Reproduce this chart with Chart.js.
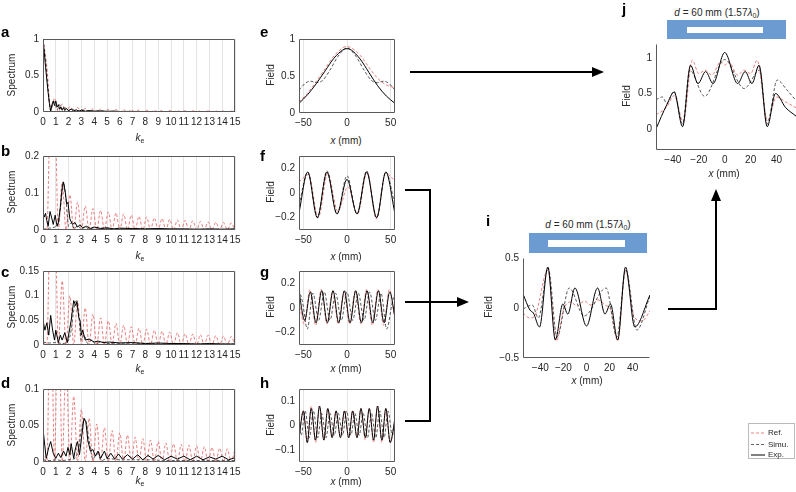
<!DOCTYPE html>
<html><head><meta charset="utf-8">
<script src="https://cdn.jsdelivr.net/npm/chart.js@4.4.1/dist/chart.umd.min.js"></script>
<style>
html,body{margin:0;padding:0;overflow:hidden}
body{width:796px;height:492px;position:relative;background:#fff;font-family:"Liberation Sans",Arial,sans-serif;color:#262626}
canvas{position:absolute}
.t{position:absolute;white-space:nowrap;font-size:10px;line-height:1;transform:translate(-50%,-50%)}
.r{transform:translate(-50%,-50%) rotate(-90deg)}
.L{position:absolute;font-weight:bold;font-size:15px;line-height:15px;color:#000}
sub{font-size:7px;vertical-align:-2px}
.bar{position:absolute;background:#6c9bd2}
.hole{position:absolute;background:#fff}
.lg{position:absolute;font-size:8px;line-height:1;transform:translateY(-50%)}
</style></head><body>
<script>
// ---------- tick labels ----------
const kTicks = [0,1,2,3,4,5,6,7,8,9,10,11,12,13,14,15];
const yTicksA = [0,0.5,1];
const yTicksB = [0,0.1,0.2];
const yTicksC = [0,0.05,0.1,0.15];
const yTicksD = [0,0.05,0.1];
const xTicksField = [-50,0,50];
const yTicksE = [0,0.5,1];
const yTicksF = [-0.2,0,0.2];
const yTicksG = [-0.2,0,0.2];
const yTicksH = [-0.1,0,0.1];
const xTicksIJ = [-40,-20,0,20,40];
const yTicksI = [-0.5,0,0.5];
const yTicksJ = [0,0.5,1];

// ---------- spectra (k_e) ----------
const lobeK = [0,0.3,0.6,0.9,1.2,1.5,1.8,2.1,2.4,2.7,3,3.3,3.6,3.9,4.2,4.5,4.8,5.1,5.4,5.7,6,6.3,6.6,6.9,7.2,7.5,7.8,8.1,8.4,8.7,9,9.3,9.6,9.9,10.2,10.5,10.8,11.1,11.4,11.7,12,12.3,12.6,12.9,13.2,13.5,13.8,14.1,14.4,14.7,15];
const refA = [1,0.62,0.03,0.19,0,0.11,0,0.075,0,0.06,0,0.05,0,0.045,0,0.04,0,0.036,0,0.033,0,0.03,0,0.028,0,0.026,0,0.024,0,0.022,0,0.021,0,0.02,0,0.019,0,0.018,0,0.017,0,0.016,0,0.015,0,0.014,0,0.013,0,0.013,0];
const refB = [0,0,0.35,0.35,0,0.13,0,0.095,0,0.075,0,0.065,0,0.058,0,0.053,0,0.049,0,0.046,0,0.043,0,0.04,0,0.037,0,0.035,0,0.033,0,0.031,0,0.029,0,0.027,0,0.026,0,0.025,0,0.023,0,0.022,0,0.021,0,0.02,0,0.019,0];
const refC = [0.005,0,0.3,0.3,0,0.13,0,0.1,0,0.09,0,0.075,0,0.063,0,0.055,0,0.049,0,0.044,0,0.04,0,0.037,0,0.034,0,0.032,0,0.03,0,0.028,0,0.026,0,0.025,0,0.023,0,0.022,0,0.021,0,0.02,0,0.019,0,0.018,0,0.017,0];
const refD = [0.01,0,0.25,0,0.25,0,0.14,0,0.09,0,0.072,0,0.06,0,0.052,0,0.047,0,0.043,0,0.04,0,0.037,0,0.034,0,0.032,0,0.03,0,0.028,0,0.026,0,0.025,0,0.024,0,0.023,0,0.022,0,0.021,0,0.02,0,0.019,0,0.018,0,0.018];

const expAK = [0,0.1,0.2,0.3,0.4,0.5,0.6,0.7,0.8,0.9,1.0,1.1,1.2,1.3,1.4,1.5,1.6,1.7,1.8,2.0,2.2,2.4,2.6,2.8,3.0,3.3,3.6,4.0,4.5,5,5.5,6,7,8,9,10,11,12,13,14,15];
const expAV = [1.0,0.82,0.62,0.44,0.27,0.12,0.01,0.1,0.15,0.09,0.15,0.07,0.1,0.04,0.07,0.03,0.06,0.02,0.05,0.02,0.04,0.015,0.03,0.01,0.025,0.01,0.02,0.01,0.015,0.008,0.012,0.006,0.008,0.005,0.007,0.004,0.006,0.004,0.005,0.003,0.004];
const simAK = [0,0.2,0.4,0.6,0.75,0.9,1.1,1.3,1.5,1.7,2.0,2.3,2.6,3.0,3.5,4,5,6,8,10,12,15];
const simAV = [1.0,0.7,0.3,0.02,0.1,0.14,0.03,0.1,0.02,0.06,0.02,0.04,0.01,0.03,0.01,0.015,0.01,0.008,0.006,0.005,0.004,0.003];

const expBK = [0,0.1,0.2,0.3,0.4,0.55,0.7,0.8,0.95,1.1,1.2,1.35,1.5,1.6,1.75,1.85,1.95,2.1,2.3,2.5,2.7,2.9,3.1,3.4,3.7,4,4.5,5,5.5,6,7,8,9,10,11,12,13,14,15];
const expBV = [0.05,0.035,0.045,0.025,0.01,0.05,0.03,0.015,0.04,0.01,0.02,0.06,0.115,0.13,0.1,0.07,0.075,0.03,0.015,0.02,0.008,0.014,0.006,0.01,0.004,0.008,0.004,0.006,0.003,0.005,0.004,0.003,0.004,0.003,0.003,0.002,0.003,0.002,0.003];
const simBK = [0,0.5,1.0,1.2,1.4,1.6,1.8,2.0,2.2,2.45,2.7,3.0,3.3,3.6,4,5,6,8,10,12,15];
const simBV = [0.002,0.005,0.01,0.02,0.07,0.128,0.08,0.01,0.02,0.003,0.012,0.002,0.008,0.002,0.006,0.004,0.003,0.003,0.002,0.002,0.002];

const expCK = [0,0.15,0.3,0.45,0.6,0.75,0.9,1.0,1.2,1.35,1.5,1.7,1.9,2.0,2.2,2.4,2.55,2.65,2.8,2.9,3.0,3.1,3.3,3.6,4.0,4.3,4.7,5.2,6,7,8,9,10,11,12,13,14,15];
const expCV = [0.05,0.03,0.045,0.02,0.06,0.03,0.01,0.03,0.005,0.02,0.01,0.025,0.005,0.02,0.05,0.09,0.08,0.088,0.055,0.05,0.02,0.03,0.01,0.012,0.006,0.008,0.005,0.006,0.004,0.005,0.003,0.004,0.003,0.003,0.002,0.003,0.002,0.002];
const simCK = [0,0.5,1.0,1.5,2.0,2.2,2.4,2.6,2.8,3.0,3.2,3.5,3.8,4.1,4.5,5,6,8,10,12,15];
const simCV = [0.006,0.004,0.005,0.003,0.01,0.03,0.07,0.09,0.06,0.01,0.02,0.003,0.01,0.002,0.006,0.003,0.004,0.003,0.002,0.002,0.002];

const expDK = [0,0.25,0.45,0.6,0.8,1.0,1.2,1.4,1.6,1.8,1.95,2.1,2.2,2.4,2.55,2.7,2.85,3.0,3.2,3.35,3.5,3.7,3.9,4.1,4.3,4.5,4.8,5.0,5.3,5.6,5.9,6.2,6.6,7.0,7.4,7.8,8.2,8.6,9.0,9.5,10,10.5,11,11.5,12,12.5,13,13.5,14,14.5,15];
const expDV = [0.045,0.005,0.02,0.028,0.012,0.005,0.012,0.006,0.015,0.008,0.02,0.01,0.025,0.005,0.02,0.028,0.01,0.032,0.06,0.055,0.03,0.015,0.017,0.008,0.015,0.005,0.015,0.005,0.012,0.004,0.011,0.004,0.01,0.004,0.01,0.003,0.009,0.004,0.009,0.003,0.008,0.004,0.008,0.003,0.008,0.003,0.007,0.004,0.008,0.003,0.006];
const simDK = [0,0.5,1.0,1.5,2.0,2.5,2.8,3.0,3.3,3.6,3.9,4.2,4.6,5,6,8,10,12,15];
const simDV = [0.003,0.002,0.003,0.002,0.003,0.005,0.02,0.045,0.058,0.03,0.004,0.012,0.002,0.005,0.003,0.003,0.002,0.002,0.002];

// ---------- fields (x in mm) ----------
const expEX = [-55,-45,-35,-25,-15,-5,0,5,15,25,35,45,55];
const expEV = [0.13,0.25,0.4,0.57,0.74,0.85,0.87,0.85,0.73,0.55,0.37,0.23,0.13];
const refEX = [-55,-45,-35,-25,-15,-5,-1,5,15,25,35,45,55];
const refEV = [0.15,0.27,0.43,0.6,0.77,0.88,0.9,0.88,0.78,0.62,0.47,0.38,0.34];
const simEX = [-55,-48,-42,-35,-28,-20,-10,0,10,20,28,35,42,48,55];
const simEV = [0.31,0.4,0.43,0.41,0.44,0.57,0.77,0.88,0.77,0.57,0.44,0.41,0.43,0.4,0.31];

const expFX = [-55,-45,-34,-23,-11.5,0,11.5,22.5,34,44.5,55];
const expFV = [-0.16,0.17,-0.2,0.17,-0.17,0.11,-0.17,0.17,-0.2,0.17,-0.17];
const refFX = [-55,-44,-33,-22,-10.5,1,12,23,33.5,44,55];
const refFV = [0.09,0.15,-0.2,0.16,-0.15,0.05,-0.17,0.17,-0.21,0.16,0.1];
const simFX = [-55,-45,-34,-23,-11.5,0,11.5,22.5,34,44.5,55];
const simFV = [-0.1,0.17,-0.2,0.18,-0.17,0.14,-0.17,0.18,-0.2,0.17,-0.1];

const expGX = [-55,-48.5,-42,-35.5,-29,-22.5,-16,-9.5,-3,3.5,10,16.5,23,29.5,36,42.5,49,55];
const expGV = [0.13,-0.1,0.13,-0.12,0.14,-0.12,0.14,-0.12,0.14,-0.12,0.14,-0.12,0.14,-0.12,0.14,-0.12,0.13,-0.08];
const refGX = [-55,-49,-42.5,-36,-29.5,-23,-16.5,-10,-3.5,3,9.5,16,22.5,29,35.5,42,48.5,55];
const refGV = [0.05,-0.13,0.15,-0.14,0.15,-0.13,0.14,-0.13,0.13,-0.13,0.14,-0.13,0.15,-0.14,0.15,-0.14,0.15,-0.1];
const simGX = [-55,-51,-45.5,-39,-32.5,-26,-19.5,-13,-6.5,0,6.5,13,19.5,26,32.5,39,45.5,52,55];
const simGV = [0.15,0.05,-0.17,0.12,-0.1,0.13,-0.1,0.12,-0.1,0.13,-0.1,0.12,-0.1,0.13,-0.1,0.12,-0.17,0.05,0.12];

const expHX = [-55,-50,-45.5,-41,-36,-31.5,-26.5,-22,-17,-12.5,-7.5,-3,2,6.5,11.5,16,21,25.5,30.5,35,40,44.5,49.5,55];
const expHV = [-0.05,0.06,-0.07,0.07,-0.06,0.08,-0.06,0.07,-0.05,0.06,-0.05,0.06,-0.05,0.06,-0.05,0.07,-0.05,0.07,-0.06,0.08,-0.06,0.07,-0.07,0.03];
const refHX = [-55,-50,-45.5,-41,-36,-31.5,-26.5,-22,-17,-12.5,-7.5,-3,2,6.5,11.5,16,21,25.5,30.5,35,40,44.5,49.5,55];
const refHV = [-0.06,0.06,-0.07,0.08,-0.07,0.08,-0.06,0.07,-0.05,0.06,-0.05,0.06,-0.05,0.06,-0.05,0.07,-0.06,0.07,-0.07,0.08,-0.07,0.07,-0.07,0.02];
const simHX = [-55,-52.5,-48,-43,-38.5,-33.5,-29,-24,-19.5,-14.5,-10,-5,-0.5,4.5,9,14,18.5,23.5,28,33,37.5,42.5,47,52,55];
const simHV = [0.0,-0.04,0.06,-0.05,0.06,-0.05,0.05,-0.05,0.05,-0.04,0.05,-0.04,0.06,-0.04,0.05,-0.04,0.05,-0.05,0.05,-0.05,0.06,-0.05,0.06,-0.04,0.02];

const expIX = [-55,-49,-46,-40.7,-33.5,-27,-20.5,-16.2,-10,0,9.6,16,20.8,27,33.8,41.8,55];
const expIV = [0.14,-0.02,-0.05,-0.19,0.41,-0.32,0.04,-0.06,0.2,-0.18,0.2,-0.06,0.04,-0.32,0.41,-0.19,0.13];
const refIX = [-55,-49,-44,-33.5,-26,-20,-14,-8,-2,4,10,16,21,27,33.8,41,48,55];
const refIV = [-0.05,-0.1,-0.06,0.38,-0.33,-0.02,0.06,0.02,0.07,0.03,0.08,0.03,-0.02,-0.33,0.38,-0.08,-0.13,-0.03];
const simIX = [-55,-47,-41.7,-33.2,-25.5,-15,-2,17,26.3,34,43.6,55];
const simIV = [-0.01,0.03,-0.1,0.4,-0.29,0.2,-0.08,0.2,-0.29,0.38,-0.22,0.12];

const expJX = [-53,-44.7,-39,-32.5,-26.4,-20.6,-14.7,-9,0,10,15.8,21,26.5,32.8,39.2,47,55];
const expJV = [0.0,0.34,0.52,0.03,0.9,0.64,0.81,0.64,1.08,0.64,0.81,0.64,0.9,0.03,0.5,0.3,0.18];
const refJX = [-53,-45,-39,-32,-25,-20,-15,-10,-3,0,3,10,15,20,25,33,40,47,55];
const refJV = [0.2,0.3,0.47,0.1,0.97,0.78,0.83,0.76,0.95,0.9,0.95,0.76,0.83,0.78,0.97,0.12,0.45,0.38,0.3];
const simJX = [-53,-48,-44.7,-39,-32.5,-27,-15.5,0,15,27,32.8,40.5,48,55];
const simJV = [0.41,0.45,0.36,0.53,0.07,0.83,0.46,0.98,0.57,0.83,0.07,0.69,0.55,0.4];

// ---------- rendering ----------
const FONT = "'Liberation Sans', Arial, sans-serif";
const RED = 'rgba(228,96,96,0.9)';
const SIM = '#444';
const EXP = '#000';
function pts(xs, ys){ return xs.map((x,i)=>({x:x, y:ys[i]})); }
function fmt(v){ return String(+(+v).toFixed(4)).replace('-', '\u2212'); }
function sets(ex, ey, sx, sy, rx, ry, jagged){
  return [
    {data:pts(ex,ey), borderColor:EXP, borderWidth:1, tension:0, cubicInterpolationMode: jagged ? 'default' : 'monotone'},
    {data:pts(sx,sy), borderColor:SIM, borderWidth:0.9, borderDash:[3,2], cubicInterpolationMode:'monotone'},
    {data:pts(rx,ry), borderColor:RED, borderWidth:0.9, borderDash:[3,2], cubicInterpolationMode:'monotone'}
  ];
}
const frame = {
  id:'frame',
  afterDraw(chart, args, opts){
    const c = chart.ctx, a = chart.chartArea;
    const l = Math.round(a.left)+0.5, t = Math.round(a.top)+0.5, r = Math.round(a.right)-0.5, b = Math.round(a.bottom)-0.5;
    c.save(); c.strokeStyle = '#5a5a5a'; c.lineWidth = 1; c.beginPath();
    if (opts.box){ c.moveTo(l,t); c.lineTo(r,t); c.lineTo(r,b); c.lineTo(l,b); c.closePath(); }
    else { c.moveTo(l,t); c.lineTo(l,b); c.lineTo(r,b); }
    c.stroke(); c.restore();
  }
};
function panel(p){
  const padL = 40, padT = 8, padR = 12, padB = 22;
  const cv = document.createElement('canvas');
  const w = (p.R-p.L)+padL+padR, h = (p.B-p.T)+padT+padB;
  cv.width = w; cv.height = h;
  cv.style.left = (p.L-padL)+'px'; cv.style.top = (p.T-padT)+'px';
  cv.style.width = w+'px'; cv.style.height = h+'px';
  document.body.appendChild(cv);
  const tickFont = {family:FONT, size:10};
  new Chart(cv, {
    type:'line',
    data:{datasets:p.datasets},
    options:{
      responsive:false, animation:false, devicePixelRatio:1,
      layout:{padding:{top:padT, right:padR, left:0, bottom:0}},
      plugins:{legend:{display:false}, tooltip:{enabled:false}, frame:{box:p.box}},
      elements:{point:{radius:0}},
      scales:{
        x:{type:'linear', min:p.xmin, max:p.xmax,
           afterBuildTicks:s=>{ s.ticks = p.xt.map(v=>({value:v})); },
           afterFit:s=>{ s.height = padB; },
           grid:{display:p.grid, color:'#e4e4e4', lineWidth:1, drawTicks:false},
           border:{display:false},
           ticks:{autoSkip:false, maxRotation:0, padding:4, color:'#262626', font:tickFont, callback:v=>fmt(v)}},
        y:{type:'linear', min:p.ymin, max:p.ymax,
           afterBuildTicks:s=>{ s.ticks = p.yt.map(v=>({value:v})); },
           afterFit:s=>{ s.width = padL; },
           grid:{display:false, drawTicks:false},
           border:{display:false},
           ticks:{padding:4, color:'#262626', font:tickFont, callback:v=>fmt(v)}}
      }
    },
    plugins:[frame]
  });
}

// spectra
panel({L:43,R:235,T:37,B:112,xmin:0,xmax:15,ymin:0,ymax:1,xt:kTicks,yt:yTicksA,grid:true,box:true,datasets:sets(expAK,expAV,simAK,simAV,lobeK,refA,true)});
panel({L:43,R:235,T:154,B:230,xmin:0,xmax:15,ymin:0,ymax:0.2,xt:kTicks,yt:yTicksB,grid:true,box:true,datasets:sets(expBK,expBV,simBK,simBV,lobeK,refB,true)});
panel({L:43,R:235,T:269,B:345,xmin:0,xmax:15,ymin:0,ymax:0.15,xt:kTicks,yt:yTicksC,grid:true,box:true,datasets:sets(expCK,expCV,simCK,simCV,lobeK,refC,true)});
panel({L:43,R:235,T:387,B:462,xmin:0,xmax:15,ymin:0,ymax:0.1,xt:kTicks,yt:yTicksD,grid:true,box:true,datasets:sets(expDK,expDV,simDK,simDV,lobeK,refD,true)});
// fields
panel({L:299,R:395,T:37,B:113,xmin:-55,xmax:55,ymin:0,ymax:1,xt:xTicksField,yt:yTicksE,grid:true,box:true,datasets:sets(expEX,expEV,simEX,simEV,refEX,refEV,false)});
panel({L:299,R:395,T:154,B:230,xmin:-55,xmax:55,ymin:-0.3,ymax:0.3,xt:xTicksField,yt:yTicksF,grid:true,box:true,datasets:sets(expFX,expFV,simFX,simFV,refFX,refFV,false)});
panel({L:299,R:395,T:269,B:345,xmin:-55,xmax:55,ymin:-0.3,ymax:0.3,xt:xTicksField,yt:yTicksG,grid:true,box:true,datasets:sets(expGX,expGV,simGX,simGV,refGX,refGV,false)});
panel({L:299,R:395,T:387,B:462,xmin:-55,xmax:55,ymin:-0.15,ymax:0.15,xt:xTicksField,yt:yTicksH,grid:true,box:true,datasets:sets(expHX,expHV,simHX,simHV,refHX,refHV,false)});
panel({L:523,R:650,T:256,B:358,xmin:-55,xmax:55,ymin:-0.5,ymax:0.5,xt:xTicksIJ,yt:yTicksI,grid:false,box:false,datasets:sets(expIX,expIV,simIX,simIV,refIX,refIV,false)});
panel({L:656,R:796,T:42,B:150,xmin:-53,xmax:55,ymin:-0.3,ymax:1.2,xt:xTicksIJ,yt:yTicksJ,grid:false,box:false,datasets:sets(expJX,expJV,simJX,simJV,refJX,refJV,false)});

// ---------- text ----------
function txt(html, x, y, cls){
  const d = document.createElement('div');
  d.className = cls || 't'; d.innerHTML = html;
  d.style.left = x+'px'; d.style.top = y+'px';
  document.body.appendChild(d); return d;
}
const ke = '<i>k</i><sub>e</sub>';
const xmm = '<i>x</i> (mm)';
txt(ke,140,138); txt(ke,140,256); txt(ke,140,369); txt(ke,140,481);
[74.5,192,307,424.5].forEach(y=>txt('Spectrum',12,y,'t r'));
txt(xmm,346,141); txt(xmm,346,257); txt(xmm,346,369); txt(xmm,346,482);
[75,192,307,424.5].forEach(y=>txt('Field',270.5,y,'t r'));
txt('Field',489,307,'t r'); txt(xmm,587,381);
txt('Field',627,96,'t r'); txt(xmm,724,173.5);
const ttl = '<i>d</i> = 60 mm (1.57<i>\u03bb</i><sub>0</sub>)';
txt(ttl,588,225); txt(ttl,717,12.5);
// panel letters
[['a',1,23.5],['b',1,143],['c',1,263.5],['d',1,374.5],['e',260,23.5],['f',260,148],['g',260,264],['h',260,374.5],['i',486,213],['j',622,1]].forEach(l=>{
  txt(l[0], l[1], l[2], 'L');
});
</script>
<div class="bar" style="left:529px;top:233px;width:118px;height:20px"></div>
<div class="hole" style="left:548px;top:240px;width:77px;height:7px"></div>
<div class="bar" style="left:667px;top:20px;width:119px;height:19px"></div>
<div class="hole" style="left:687px;top:27px;width:76px;height:6px"></div>
<svg width="796" height="492" style="position:absolute;left:0;top:0;pointer-events:none">
  <g stroke="#000" stroke-width="2" fill="none">
    <line x1="410" y1="72" x2="594" y2="72"/>
    <polyline points="405,190 430,190 430,421 405,421"/>
    <line x1="405" y1="302" x2="459" y2="302"/>
    <polyline points="668,309 716,309 716,199"/>
  </g>
  <g fill="#000">
    <polygon points="604,72 592,67 592,77"/>
    <polygon points="469,302 457,297 457,307"/>
    <polygon points="716,189 711,201 721,201"/>
  </g>
  <rect x="748.5" y="423.5" width="46" height="35" fill="#fff" stroke="#bbb" stroke-width="1"/>
  <line x1="751" y1="433" x2="765" y2="433" stroke="rgba(228,96,96,0.9)" stroke-width="0.9" stroke-dasharray="3,2"/>
  <line x1="751" y1="444.5" x2="765" y2="444.5" stroke="#555" stroke-width="0.9" stroke-dasharray="3,2"/>
  <line x1="751" y1="455" x2="765" y2="455" stroke="#000" stroke-width="1"/>
</svg>
<div class="lg" style="left:768px;top:433px">Ref.</div>
<div class="lg" style="left:768px;top:444.5px">Simu.</div>
<div class="lg" style="left:768px;top:455px">Exp.</div>
</body></html>
